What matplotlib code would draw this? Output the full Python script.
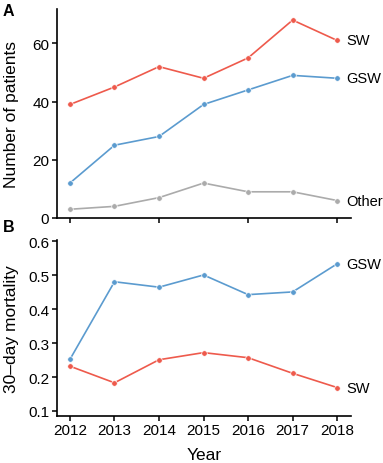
import matplotlib
matplotlib.use("Agg")
import matplotlib.pyplot as plt

plt.rcParams["font.family"] = ["Liberation Sans", "DejaVu Sans"]

# Дані з рисунка
years = [2012, 2013, 2014, 2015, 2016, 2017, 2018]

patients_sw = [39, 45, 52, 48, 55, 68, 61]
patients_gsw = [12, 25, 28, 39, 44, 49, 48]
patients_other = [3, 4, 7, 12, 9, 9, 6]

mortality_gsw = [0.252, 0.481, 0.465, 0.501, 0.443, 0.451, 0.534]
mortality_sw = [0.232, 0.183, 0.251, 0.272, 0.257, 0.211, 0.169]

COLOR_SW = "#EE5A4C"
COLOR_GSW = "#5B9BCF"
COLOR_OTHER = "#ABABAB"

W, H = 383, 464
fig = plt.figure(figsize=(W / 100, H / 100), dpi=100)


def style_axis(ax):
    for side in ("top", "right"):
        ax.spines[side].set_visible(False)
    for side in ("left", "bottom"):
        ax.spines[side].set_linewidth(1.2)
    ax.tick_params(direction="out", length=3.5, width=1.1, labelsize=11, pad=2)
    ax.set_xlim(2011.71, 2018.31)


def draw_series(ax, values, color, label):
    ax.plot(years, values, color=color, linewidth=1.2, marker="o", markersize=4,
            markeredgecolor="white", markeredgewidth=0.5, clip_on=False)
    ax.text(years[-1] + 0.2, values[-1], label, fontsize=10.5, va="center", ha="left")


# Панель A
ax_a = fig.add_axes([57 / W, 1 - 219 / H, 294 / W, 209 / H])
style_axis(ax_a)
draw_series(ax_a, patients_sw, COLOR_SW, "SW")
draw_series(ax_a, patients_gsw, COLOR_GSW, "GSW")
draw_series(ax_a, patients_other, COLOR_OTHER, "Other")
ax_a.set_ylim(0, 71.8)
ax_a.set_yticks([0, 20, 40, 60])
ax_a.set_xticks([2012, 2014, 2016, 2018])
ax_a.set_xticklabels([])
ax_a.set_ylabel("Number of patients", fontsize=12.5)
ax_a.yaxis.set_label_coords(-0.128, 0.5)

# Панель B
ax_b = fig.add_axes([57 / W, 1 - 416.7 / H, 294 / W, 176 / H])
style_axis(ax_b)
draw_series(ax_b, mortality_gsw, COLOR_GSW, "GSW")
draw_series(ax_b, mortality_sw, COLOR_SW, "SW")
ax_b.set_ylim(0.086, 0.605)
ax_b.set_yticks([0.1, 0.2, 0.3, 0.4, 0.5, 0.6])
ax_b.set_yticklabels(["0.1", "0.2", "0.3", "0.4", "0.5", "0.6"])
ax_b.set_xticks(years)
ax_b.set_ylabel("30\u2013day mortality", fontsize=12.5)
ax_b.yaxis.set_label_coords(-0.128, 0.5)
ax_b.set_xlabel("Year", fontsize=12.5)
ax_b.xaxis.set_label_coords(0.5, -0.18)

fig.text(3 / W, 1 - 12 / H, "A", fontsize=11.5, fontweight="bold", va="center")
fig.text(3 / W, 1 - 228 / H, "B", fontsize=11.5, fontweight="bold", va="center")

fig.savefig("out.png", dpi=100)
